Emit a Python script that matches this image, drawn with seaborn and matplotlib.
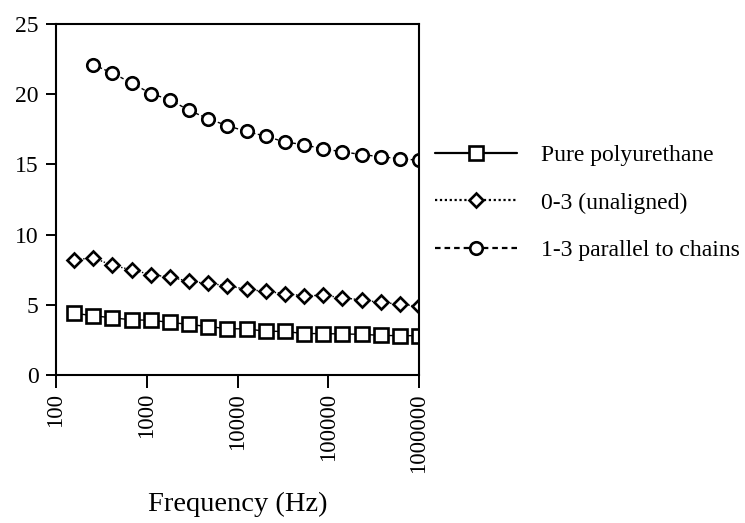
import matplotlib
matplotlib.use("Agg")
import matplotlib.pyplot as plt
import seaborn as sns
import pandas as pd

# Measurement frequencies (Hz), log-spaced sweep
freq = [158, 258, 419, 681, 1108, 1802, 2929, 4762, 7743, 12589,
        20468, 33279, 54117, 87992, 143000, 232800, 378500, 615400, 1000000]

# Dielectric constant of each sample
pure_pu = [4.4, 4.22, 4.07, 3.93, 3.9, 3.75, 3.6, 3.45, 3.3, 3.28,
           3.12, 3.1, 2.95, 2.95, 2.92, 2.9, 2.82, 2.8, 2.8]
unaligned_03 = [8.2, 8.35, 7.8, 7.5, 7.15, 6.97, 6.67, 6.52, 6.36, 6.1,
                5.95, 5.8, 5.64, 5.68, 5.5, 5.35, 5.17, 5.05, 4.88]
parallel_13 = [22.1, 21.5, 20.8, 20.05, 19.6, 18.85, 18.25, 17.75, 17.35,
               17.0, 16.6, 16.4, 16.1, 15.9, 15.7, 15.55, 15.4, 15.3]

labels = ["Pure polyurethane", "0-3 (unaligned)", "1-3 parallel to chains"]
x_ticks = [100, 1000, 10000, 100000, 1000000]
y_ticks = [0, 5, 10, 15, 20, 25]

sns.set_theme(style="ticks")
plt.rcParams["font.family"] = ["Liberation Serif", "DejaVu Serif"]
plt.rcParams["text.color"] = "black"
plt.rcParams["axes.labelcolor"] = "black"
plt.rcParams["xtick.color"] = "black"
plt.rcParams["ytick.color"] = "black"

fig = plt.figure(figsize=(7.45, 5.23), dpi=100)
ax = fig.add_axes([0.0752, 0.283, 0.4872, 0.6711])
ax.set_xscale("log")

marker_common = dict(markerfacecolor="white", markeredgecolor="black",
                     markeredgewidth=1.9, color="black", linewidth=1.0)

sns.lineplot(x=freq, y=pure_pu, ax=ax, marker="s", markersize=9.4,
             linestyle="-", label=labels[0], **marker_common)
sns.lineplot(x=freq, y=unaligned_03, ax=ax, marker="D", markersize=7.0,
             linestyle=(0, (1, 1.2)), label=labels[1], **marker_common)
sns.lineplot(x=freq[1:], y=parallel_13, ax=ax, marker="o", markersize=9.0,
             linestyle=(0, (2.5, 1.8)), label=labels[2], **marker_common)

ax.set_xlim(100, 1000000)
ax.set_ylim(0, 25)
ax.set_xticks(x_ticks)
ax.set_xticklabels([str(t) for t in x_ticks], rotation=90, fontsize=16.5)
ax.minorticks_off()
ax.set_yticks(y_ticks)
ax.set_yticklabels([str(t) for t in y_ticks], fontsize=17)
ax.tick_params(axis="x", direction="out", length=9, width=1.4, colors="black", pad=4)
ax.tick_params(axis="y", direction="out", length=7.5, width=1.4, colors="black", pad=5)
for sp in ax.spines.values():
    sp.set_visible(True)
    sp.set_linewidth(1.5)
    sp.set_color("black")

ax.set_xlabel("Frequency (Hz)", fontsize=20.5, labelpad=14, color="black")
ax.set_ylabel("")

leg = ax.legend(loc="upper left", bbox_to_anchor=(0.5834, 0.7235),
                bbox_transform=fig.transFigure, frameon=False, fontsize=17,
                handlelength=3.5, handletextpad=1.0, labelspacing=1.1,
                borderpad=0, borderaxespad=0, numpoints=1)
for line in leg.get_lines():
    line.set_linewidth(1.6)
for txt in leg.get_texts():
    txt.set_color("black")

fig.savefig("out.png", dpi=100)
